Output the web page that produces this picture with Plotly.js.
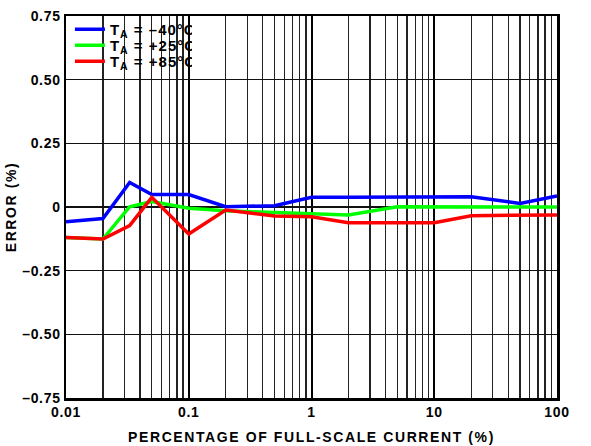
<!DOCTYPE html>
<html>
<head>
<meta charset="utf-8">
<script src="https://cdn.plot.ly/plotly-3.0.1.min.js"></script>
<style>
html,body{margin:0;padding:0;background:#fff;}
#chart{width:591px;height:446px;}
#chart .xtick text, #chart .ytick text{letter-spacing:0.7px;}
#chart .g-xtitle text, #chart .g-ytitle text{letter-spacing:1.6px;}
#chart .legendtext{letter-spacing:1px;}
</style>
</head>
<body>
<div id="chart"></div>
<script>
const currentPct = [0.01, 0.02, 0.033, 0.05, 0.1, 0.2, 0.5, 1, 2, 5, 10, 20, 50, 100];
const errMinus40 = [-0.058, -0.045, 0.096, 0.049, 0.049, 0.001, 0.005, 0.038, 0.038, 0.038, 0.039, 0.040, 0.014, 0.043];
const errPlus25 = [-0.120, -0.126, 0.001, 0.021, -0.005, -0.015, -0.022, -0.025, -0.031, 0.001, 0.000, 0.000, 0.000, 0.000];
const errPlus85 = [-0.120, -0.126, -0.073, 0.038, -0.106, -0.012, -0.035, -0.038, -0.062, -0.062, -0.062, -0.034, -0.031, -0.031];
const seriesNames = ['T<sub>A</sub> = \u201340\u00b0C', 'T<sub>A</sub> = +25\u00b0C', 'T<sub>A</sub> = +85\u00b0C'];
const seriesColors = ['#0000ff', '#00ff00', '#ff0000'];
const xMajorTicks = [0.01, 0.1, 1, 10, 100];
const xMajorLabels = ['0.01', '0.1', '1', '10', '100'];
const xMinorTicks = [0.02,0.03,0.04,0.05,0.06,0.07,0.08,0.09,0.2,0.3,0.4,0.5,0.6,0.7,0.8,0.9,2,3,4,5,6,7,8,9,20,30,40,50,60,70,80,90];
const yTicks = [-0.75, -0.5, -0.25, 0, 0.25, 0.5, 0.75];
const yLabels = ['\u20130.75', '\u20130.50', '\u20130.25', '0', '0.25', '0.50', '0.75'];

const font = {family: 'Liberation Sans, Arial, sans-serif', size: 14, color: '#000', weight: 700};
const ys = [errMinus40, errPlus25, errPlus85];
const data = ys.map((y, i) => ({
  x: currentPct, y: y, type: 'scatter', mode: 'lines', name: seriesNames[i],
  line: {color: seriesColors[i], width: 3.5}
}));

const layout = {
  width: 591, height: 446,
  margin: {l: 66, r: 34, t: 16, b: 48},
  paper_bgcolor: '#fff', plot_bgcolor: '#fff',
  font: font,
  showlegend: true,
  legend: {x: 0.008, y: 1, xanchor: 'left', yanchor: 'top', bgcolor: 'rgba(0,0,0,0)', borderwidth: 0,
           font: {family: 'Liberation Sans, Arial, sans-serif', size: 15, color: '#000', weight: 700},
           tracegroupgap: 0, itemwidth: 30},
  xaxis: {
    type: 'log', range: [-2, 2],
    tickmode: 'array', tickvals: xMajorTicks, ticktext: xMajorLabels,
    showgrid: true, gridcolor: '#000', gridwidth: 2,
    minor: {tickmode: 'array', tickvals: xMinorTicks, showgrid: true, gridcolor: '#222', gridwidth: 1.3, ticks: ''},
    showline: true, mirror: true, linecolor: '#000', linewidth: 2.5,
    ticks: '', zeroline: false,
    tickfont: font,
    title: {text: 'PERCENTAGE OF FULL-SCALE CURRENT (%)', font: font, standoff: 13}
  },
  yaxis: {
    range: [-0.75, 0.75],
    tickmode: 'array', tickvals: yTicks, ticktext: yLabels,
    showgrid: true, gridcolor: '#111', gridwidth: 1.5,
    zeroline: false,
    showline: true, mirror: true, linecolor: '#000', linewidth: 2.5,
    ticks: '', tickfont: font,
    title: {text: 'ERROR (%)', font: font, standoff: 6}
  },
  shapes: [{type: 'rect', xref: 'paper', yref: 'y', x0: 0, x1: 0.315, y0: 0.5, y1: 0.75,
            layer: 'between', fillcolor: '#fff', line: {width: 0}}]
};

Plotly.newPlot('chart', data, layout, {displayModeBar: false, staticPlot: true}).then(gd => {
  // tighten legend row spacing to match the reference
  const items = gd.querySelectorAll('.legend .traces');
  if (!items.length) return;
  const m = /translate\(([-\d.]+),\s*([-\d.]+)\)/.exec(items[0].getAttribute('transform') || '');
  if (!m) return;
  const tx = parseFloat(m[1]), ty = parseFloat(m[2]) - 3;
  items.forEach((el, i) => el.setAttribute('transform', 'translate(' + tx + ',' + (ty + i * 16) + ')'));
});
</script>
</body>
</html>
